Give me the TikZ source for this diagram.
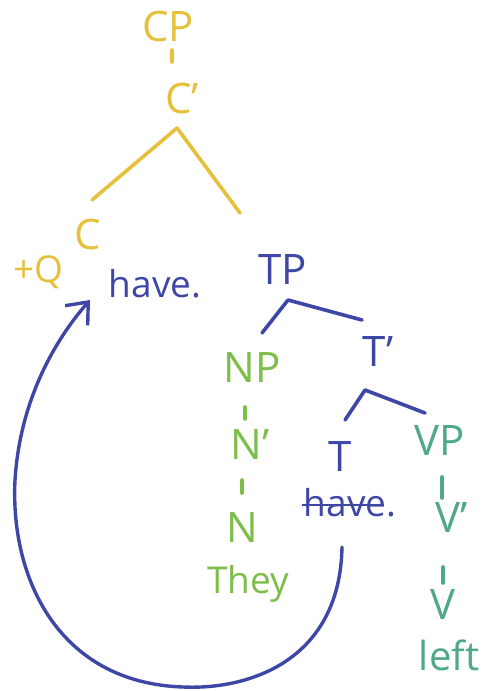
\documentclass[tikz,border=0pt]{standalone}
\usepackage{fontspec}
\setmainfont{Open Sans}
\usetikzlibrary{arrows.meta}

\definecolor{cyel}{HTML}{E5C13B}
\definecolor{tblue}{HTML}{3E46A6}
\definecolor{ngreen}{HTML}{7DBE4B}
\definecolor{vteal}{HTML}{4FA88A}

\begin{document}
\begin{tikzpicture}[
      x=1pt, y=-1pt,
      cat/.style={inner sep=0pt, font=\fontsize{42}{46}\selectfont},
      word/.style={inner sep=0pt, font=\fontsize{37}{40}\selectfont},
      branch/.style={line width=3.6pt, line cap=round, line join=round},
      mv/.style={line width=3.4pt, line cap=round, -{Straight Barb[length=18pt, width=30pt, line width=3.4pt]}},
    ]
    \useasboundingbox (0,0) rectangle (486,691);
    % CP layer
    \node[cat, text=cyel] (cp)   at (168,26)  {CP};
    \node[cat, text=cyel] (cbar) at (182,98)  {C'};
    \node[cat, text=cyel] (c)    at (88,234)  {C};
    \node[word, text=cyel] (q)   at (38,272)  {+Q};
    \node[word, text=tblue] (have) at (155,284) {have.};
    % TP layer
    \node[cat, text=tblue] (tp)   at (283,270) {TP};
    \node[cat, text=tblue] (tbar) at (378,352) {T'};
    \node[cat, text=tblue] (t)    at (340,457) {T};
    \node[word, text=tblue] (thave) at (350,503) {have.};
    \draw[tblue, line width=2.8pt] ([xshift=-2pt,yshift=-2pt]thave.west) -- ([xshift=-12pt,yshift=-2pt]thave.east);
    % subject
    \node[cat, text=ngreen] (np)  at (252,368) {NP};
    \node[cat, text=ngreen] (nbar) at (250,445) {N'};
    \node[cat, text=ngreen] (n)   at (242,528) {N};
    \node[word, text=ngreen] (they) at (248,584) {They};
    % predicate
    \node[cat, text=vteal] (vp)   at (440,441) {VP};
    \node[cat, text=vteal] (vbar) at (452,518) {V'};
    \node[cat, text=vteal] (v)    at (443,605) {V};
    \node[word, text=vteal, font=\fontsize{40}{44}\selectfont] (left) at (449,655) {left};

    % branches
    \coordinate (cbar-a) at (177,128);
    \coordinate (tp-a)   at (288,300);
    \coordinate (tbar-a) at (365,390);
    \draw[branch, cyel] (172,50) -- (172,62);
    \draw[branch, cyel] (92,200) -- (cbar-a) -- (240,213);
    \draw[branch, tblue] (262,333) -- (tp-a) -- (362,320);
    \draw[branch, tblue] (345,420) -- (tbar-a) -- (425,413);
    \draw[branch, ngreen] (245,407) -- (245,419);
    \draw[branch, ngreen] (242,480) -- (242,493);
    \draw[branch, vteal] (442,477) -- (442,498);
    \draw[branch, vteal] (443,567) -- (443,583);

    % head movement
    \coordinate (trace) at (342,547);
    \coordinate (land)  at (90,300);
    \draw[mv, tblue] (trace) .. controls (340,660) and (250,690) .. (183,687)
      .. controls (60,683) and (10,580) .. (15,480)
      .. controls (20,400) and (55,340) .. (land);
  \end{tikzpicture}
\end{document}
